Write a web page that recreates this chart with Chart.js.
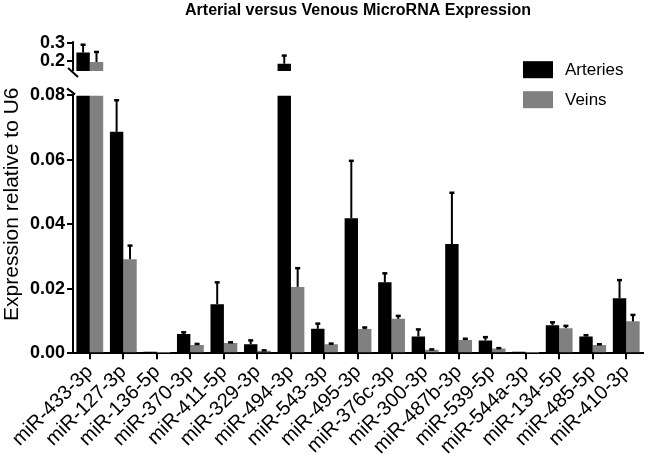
<!DOCTYPE html>
<html>
<head>
<meta charset="utf-8">
<script src="https://cdn.jsdelivr.net/npm/chart.js@4.4.1/dist/chart.umd.min.js"></script>
<style>
  body { margin: 0; background: #fff; }
  #wrap { width: 649px; height: 460px; }
</style>
</head>
<body>
<div id="wrap"><canvas id="mirChart"></canvas></div>
<script>
// data
var labels = ['miR-433-3p', 'miR-127-3p', 'miR-136-5p', 'miR-370-3p', 'miR-411-5p', 'miR-329-3p',
    'miR-494-3p', 'miR-543-3p', 'miR-495-3p', 'miR-376c-3p', 'miR-300-3p', 'miR-487b-3p',
    'miR-539-5p', 'miR-544a-3p', 'miR-134-5p', 'miR-485-5p', 'miR-410-3p'];
var arteries = [0.247, 0.0687, 0.0005, 0.0060, 0.0152, 0.0028, 0.185, 0.0076, 0.0419, 0.0220,
    0.0052, 0.0339, 0.0040, 0.0005, 0.0087, 0.0052, 0.0171];
var arteriesErr = [0.043, 0.0098, 0, 0.0005, 0.0068, 0.0012, 0.045, 0.0016, 0.0178, 0.0028,
    0.0022, 0.0159, 0.0010, 0, 0.0009, 0.0004, 0.0056];
var veins = [0.195, 0.0292, 0.0001, 0.0026, 0.0032, 0.0008, 0.0206, 0.0028, 0.0075, 0.0107,
    0.0011, 0.0041, 0.0015, 0.0001, 0.0078, 0.0026, 0.0099];
var veinsErr = [0.055, 0.0042, 0, 0.0003, 0.0002, 0.0001, 0.0058, 0.0002, 0.0005, 0.0009,
    0.0001, 0.0004, 0.0001, 0, 0.0007, 0.0002, 0.0020];
var lowerTicks = [0, 0.02, 0.04, 0.06, 0.08];
var upperTicks = [0.2, 0.3];

var lowerMax = 0.08;     // top of the lower segment
var upperBase = 0.145;   // where bars restart above the break
var seriesNames = ['Arteries', 'Veins'];
var seriesColors = ['#000000', '#808080'];

var FONT = "'Liberation Sans', Arial, sans-serif";
Chart.defaults.font.family = FONT;
Chart.defaults.color = '#000';

function lowPart(vals, errs) {
    return {
        data: vals.map(v => Math.min(v, lowerMax)),
        errors: vals.map((v, i) => v > lowerMax ? 0 : errs[i])
    };
}
function highPart(vals, errs) {
    return {
        data: vals.map(v => v > lowerMax ? [upperBase, v] : null),
        errors: vals.map((v, i) => v > lowerMax ? errs[i] : 0)
    };
}

var aLow = lowPart(arteries, arteriesErr), vLow = lowPart(veins, veinsErr);
var aHigh = highPart(arteries, arteriesErr), vHigh = highPart(veins, veinsErr);

function barSet(label, part, color, axis, stack) {
    return {
        label: label,
        data: part.data,
        errors: part.errors,
        backgroundColor: color,
        borderWidth: 0,
        yAxisID: axis,
        stack: stack,
        categoryPercentage: 0.8,
        barPercentage: 1.0
    };
}

// error bars, break marks, y title and legend
var extras = {
    id: 'extras',
    afterDatasetsDraw(chart) {
        var ctx = chart.ctx;
        ctx.save();
        ctx.strokeStyle = '#000';
        chart.data.datasets.forEach((ds, di) => {
            var meta = chart.getDatasetMeta(di);
            meta.data.forEach((bar, i) => {
                var raw = ds.data[i];
                var err = ds.errors[i];
                if (raw == null || !err) return;
                var top = Array.isArray(raw) ? raw[1] : raw;
                var yEnd = meta.yScale.getPixelForValue(top + err);
                ctx.lineWidth = 2;
                ctx.beginPath();
                ctx.moveTo(bar.x, bar.y);
                ctx.lineTo(bar.x, yEnd);
                ctx.stroke();
                ctx.lineWidth = 2.5;
                ctx.beginPath();
                ctx.moveTo(bar.x - 2.5, yEnd);
                ctx.lineTo(bar.x + 2.5, yEnd);
                ctx.stroke();
            });
        });
        ctx.restore();
    },
    afterDraw(chart) {
        var ctx = chart.ctx;
        var area = chart.chartArea;
        var y = chart.scales.y, y2 = chart.scales.y2;
        var x0 = area.left;
        ctx.save();
        ctx.strokeStyle = '#000';
        ctx.lineWidth = 2;

        // upper axis segment
        var upTop = y2.top + 1;
        var upBot = y2.getPixelForValue(upperBase);
        ctx.beginPath();
        ctx.moveTo(x0, upTop);
        ctx.lineTo(x0, upBot);
        ctx.stroke();

        // break slashes
        ctx.beginPath();
        ctx.moveTo(x0 - 5, upBot - 3);
        ctx.lineTo(x0 + 5, upBot + 6);
        ctx.stroke();
        var lowTop = y.getPixelForValue(lowerMax);
        ctx.beginPath();
        ctx.moveTo(x0 - 6, lowTop - 7);
        ctx.lineTo(x0 + 2, lowTop - 1);
        ctx.stroke();

        // y axis title
        ctx.fillStyle = '#000';
        ctx.font = '21px ' + FONT;
        ctx.textAlign = 'center';
        ctx.textBaseline = 'middle';
        ctx.translate(12, area.top + 164);
        ctx.rotate(-Math.PI / 2);
        ctx.fillText('Expression relative to U6', 0, 0);
        ctx.restore();

        // legend
        ctx.save();
        ctx.font = '17px ' + FONT;
        ctx.textAlign = 'left';
        ctx.textBaseline = 'middle';
        seriesNames.forEach((name, k) => {
            var bx = area.right - 120;
            var by = area.top + 21 + k * 30;
            ctx.fillStyle = seriesColors[k];
            ctx.fillRect(bx, by, 30, 17);
            ctx.fillStyle = '#000';
            ctx.fillText(name, bx + 42, by + 9);
        });
        ctx.restore();
    }
};

new Chart(document.getElementById('mirChart'), {
    type: 'bar',
    data: {
        labels: labels,
        datasets: [
            barSet(seriesNames[0], aLow, seriesColors[0], 'y', 'a'),
            barSet(seriesNames[1], vLow, seriesColors[1], 'y', 'v'),
            barSet(seriesNames[0], aHigh, seriesColors[0], 'y2', 'a'),
            barSet(seriesNames[1], vHigh, seriesColors[1], 'y2', 'v')
        ]
    },
    options: {
        responsive: true,
        maintainAspectRatio: false,
        animation: false,
        layout: { padding: { left: 28, right: 6, top: 0, bottom: 0 } },
        plugins: {
            legend: { display: false },
            tooltip: { enabled: false },
            title: {
                display: true,
                text: 'Arterial versus Venous MicroRNA Expression',
                fullSize: false,
                font: { size: 16, weight: 'bold' },
                color: '#000',
                padding: { top: 1, bottom: 20 }
            }
        },
        scales: {
            x: {
                grid: { display: true, offset: false, drawOnChartArea: false, color: '#000', lineWidth: 2, tickLength: 6 },
                border: { color: '#000', width: 2 },
                ticks: { autoSkip: false, maxRotation: 45, minRotation: 45, font: { size: 20 }, color: '#000', padding: 1 }
            },
            y: {
                stack: 'left',
                stackWeight: 257,
                stacked: false,
                min: 0,
                max: lowerMax,
                afterBuildTicks: (scale) => { scale.ticks = lowerTicks.map(v => ({ value: v })); },
                grid: { drawOnChartArea: false, color: '#000', lineWidth: 2, tickLength: 6 },
                border: { color: '#000', width: 2 },
                ticks: { font: { size: 18, weight: 'bold' }, color: '#000', padding: 2, callback: (v) => v.toFixed(2) }
            },
            y2: {
                stack: 'left',
                stackWeight: 55,
                stacked: false,
                position: 'left',
                min: 0.01,
                max: 0.315,
                afterBuildTicks: (scale) => { scale.ticks = upperTicks.map(v => ({ value: v })); },
                grid: { drawOnChartArea: false, color: '#000', lineWidth: 2, tickLength: 6 },
                border: { display: false },
                ticks: { font: { size: 18, weight: 'bold' }, color: '#000', padding: 2, callback: (v) => v.toFixed(1) }
            }
        }
    },
    plugins: [extras]
});
</script>
</body>
</html>
